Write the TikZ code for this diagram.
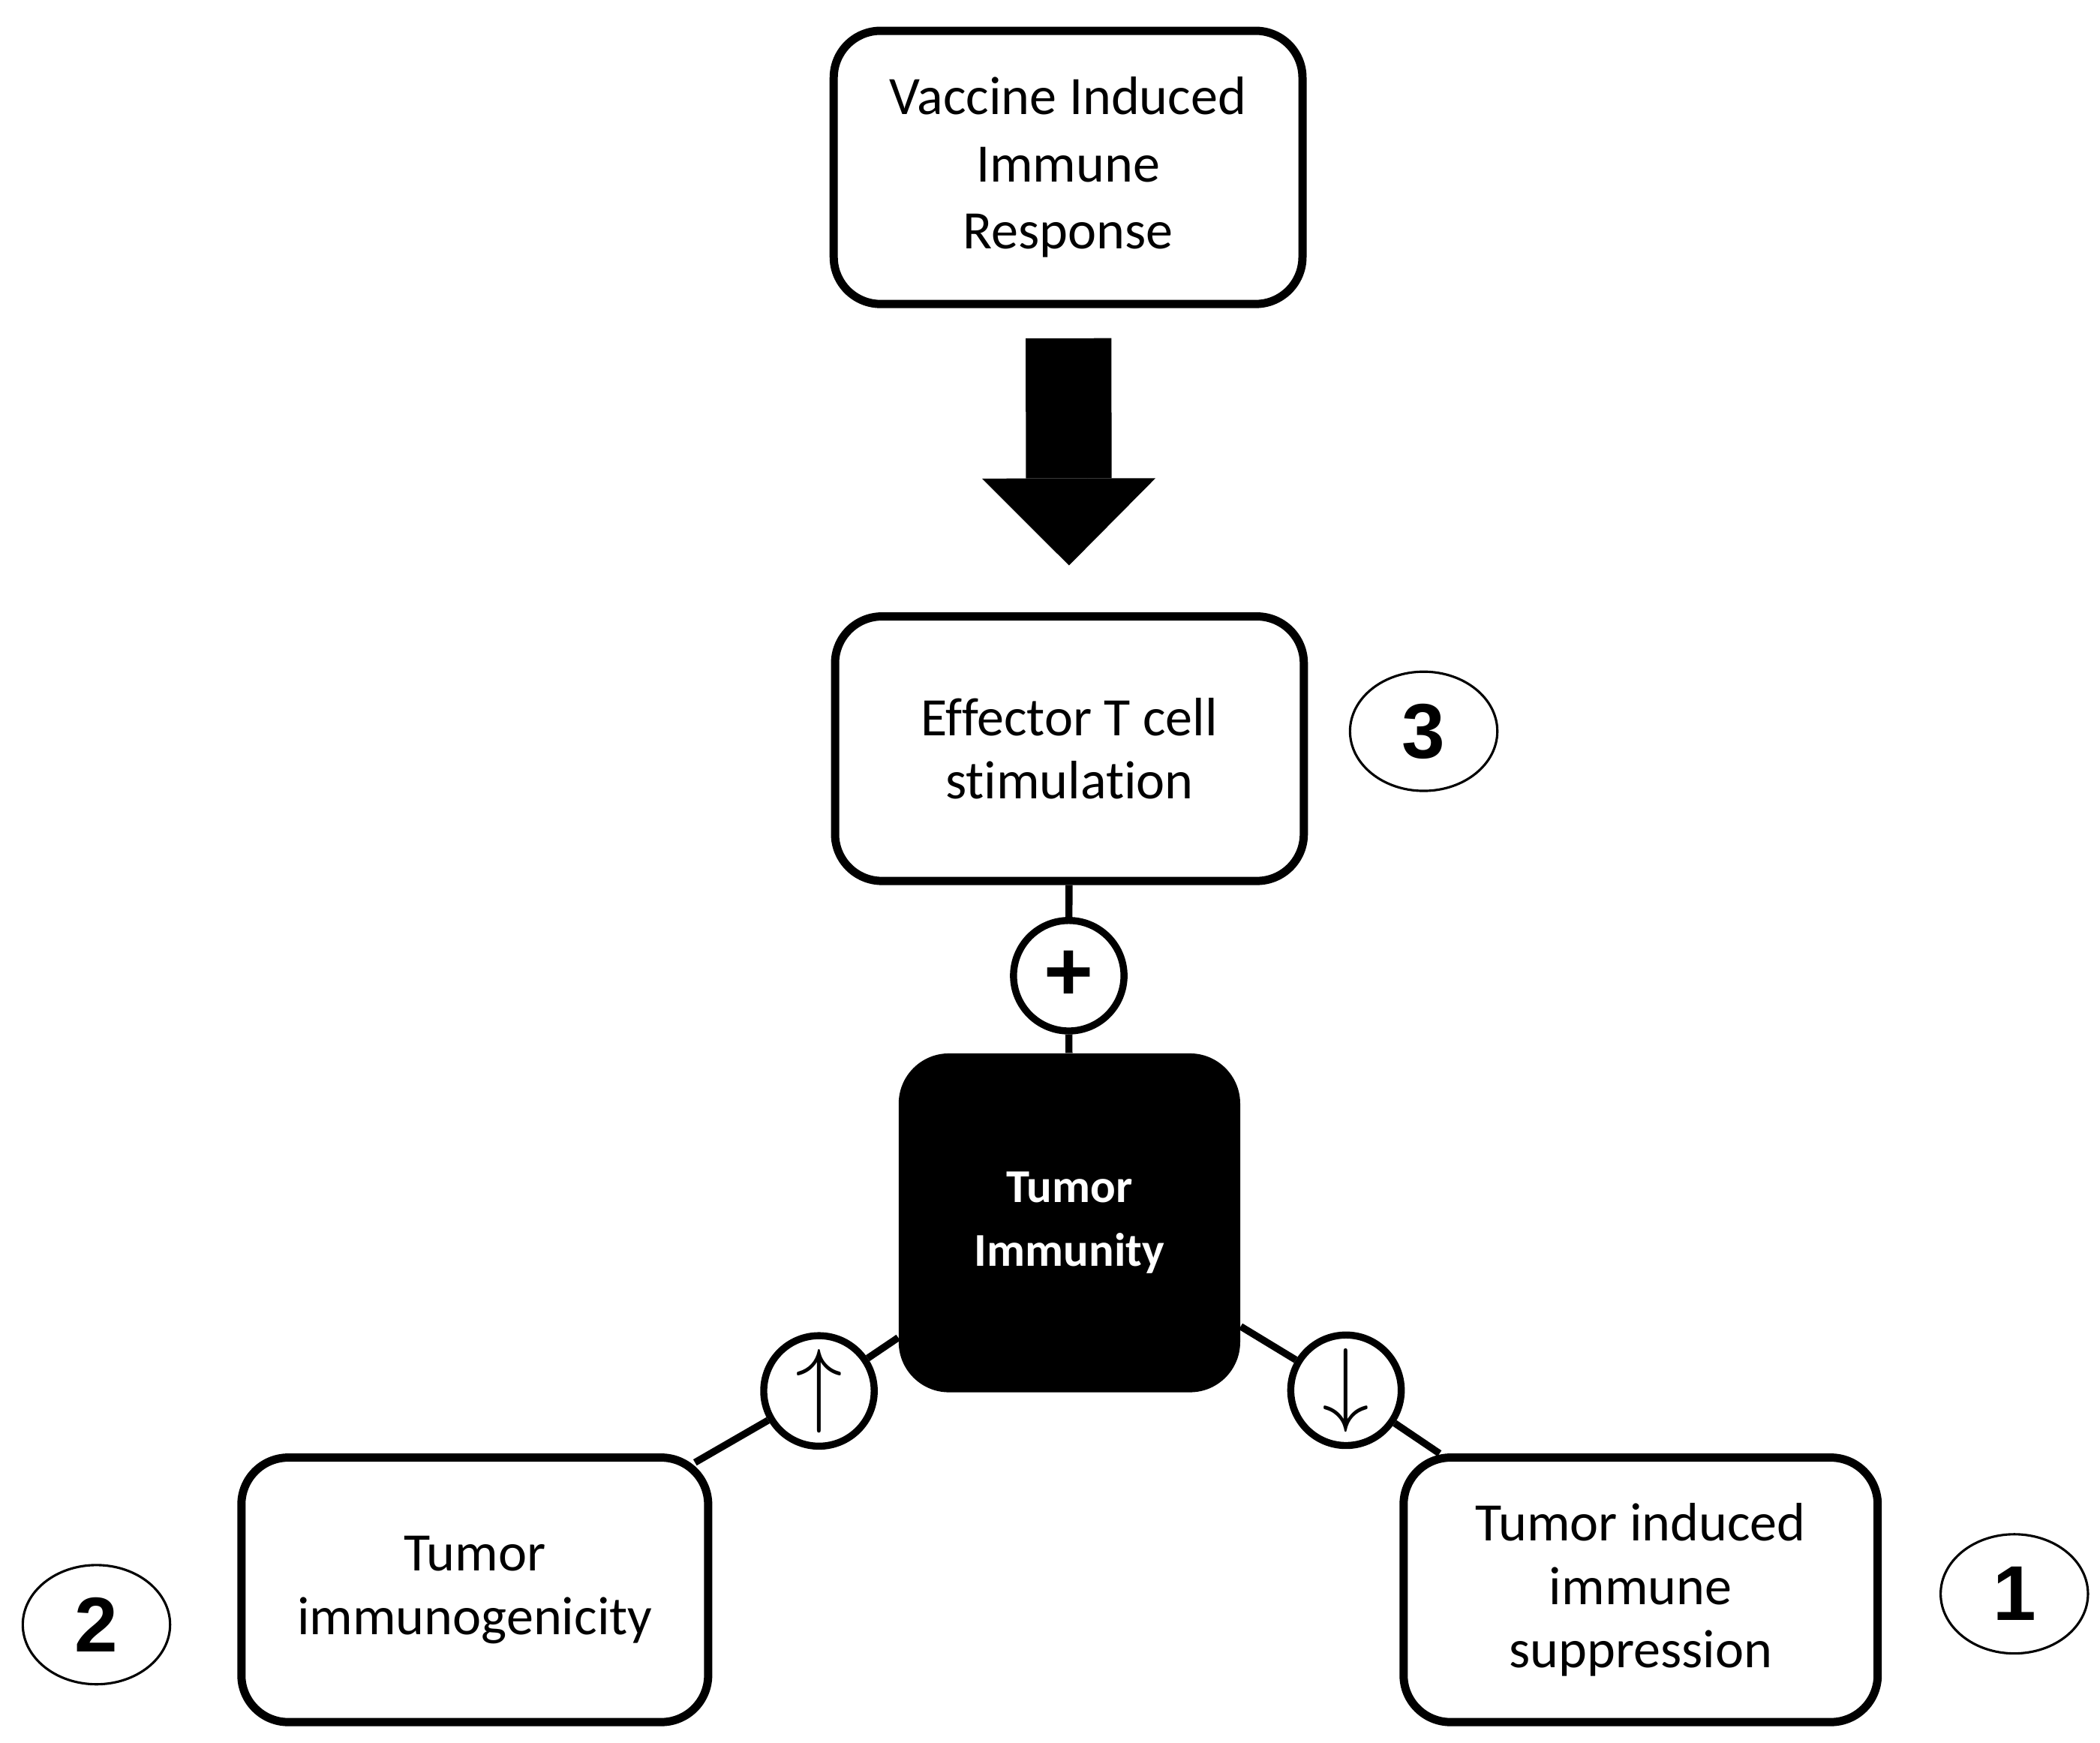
\documentclass[tikz,border=0pt]{standalone}
\usepackage{graphicx}
\usepackage{fontspec}
\setmainfont{Carlito}[Ligatures=NoCommon]
\newfontfamily\numfont{Liberation Sans}
\usetikzlibrary{arrows.meta,shapes}
\tikzstyle{wbox}=[rectangle,rounded corners=0.7cm,draw=black,line width=3.5pt,minimum width=7cm,minimum height=3.95cm,align=center,font=\fontsize{23}{27}\selectfont]
\tikzstyle{bbox}=[rectangle,rounded corners=0.75cm,fill=black,text=white,minimum width=5.1cm,minimum height=5.06cm,align=center,font=\bfseries\fontsize{20}{27}\selectfont]
\tikzstyle{sign}=[circle,draw=black,fill=white,line width=3pt,minimum size=1.65cm,inner sep=0pt]
\tikzstyle{numb}=[ellipse,draw=black,line width=1pt,minimum width=2.2cm,minimum height=1.78cm,inner sep=0pt,font=\numfont\bfseries\fontsize{33}{33}\selectfont]
\tikzstyle{link}=[line width=3pt]
\tikzstyle{bigarr}=[line width=1.28cm,-{Triangle[length=1.3cm,width=2.59cm,line width=0pt]}]

\begin{document}
\begin{tikzpicture}
\useasboundingbox (0,0) rectangle (31.36,26.02);
\node[wbox,minimum height=4.08cm,font=\fontsize{23}{28.5}\selectfont] (V) at (15.95,23.52) {Vaccine Induced\\Immune\\Response};
\node[wbox] (E) at (15.97,14.84) {Effector T cell\\stimulation};
\node[bbox] (T) at (15.97,7.76) {Tumor\\Immunity};
\node[sign] (P) at (15.96,11.45) {\numfont\bfseries\fontsize{36}{36}\selectfont +};
\node[sign] (U) at (12.23,5.25) {\scalebox{4}{$\uparrow$}};
\node[sign] (D) at (20.1,5.26) {\scalebox{4}{$\downarrow$}};
\node[wbox,minimum width=6.97cm] (B2) at (7.09,2.28) {Tumor\\immunogenicity};
\node[wbox,minimum width=7.08cm] (B1) at (24.5,2.28) {Tumor induced\\immune\\suppression};
\node[numb] (N3) at (21.26,15.1) {3};
\node[numb] (N2) at (1.44,1.76) {2};
\node[numb] (N1) at (30.08,2.22) {1};
% connectors
\draw[bigarr,shorten <=0.45cm,shorten >=0.7cm] (V) -- (E);
\draw[link] (E) -- (P);\draw[link] (P) -- (T);
\draw[link] (T) -- (U);\draw[link,shorten >=-0.27cm] (U) -- (B2);
\draw[link] (T) -- (D);\draw[link] (D) -- (B1);
\end{tikzpicture}
\end{document}
